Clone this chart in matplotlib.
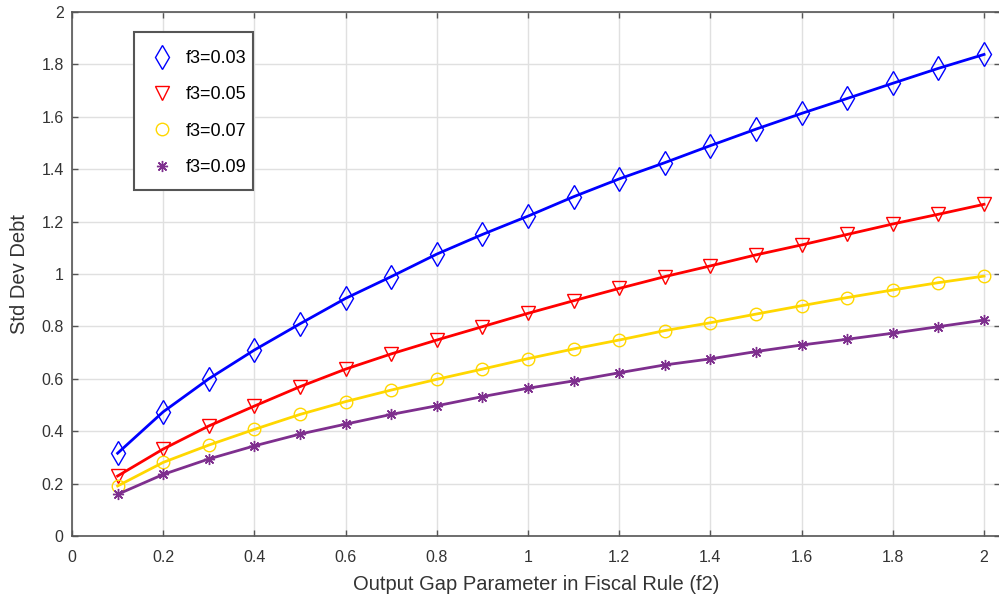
import matplotlib.pyplot as plt
from matplotlib.patches import Rectangle
import numpy as np

# Параметр f2 (ось X)
f2 = [0.1, 0.2, 0.3, 0.4, 0.5, 0.6, 0.7, 0.8, 0.9, 1.0,
      1.1, 1.2, 1.3, 1.4, 1.5, 1.6, 1.7, 1.8, 1.9, 2.0]

# Стандартное отклонение долга для разных f3
sd_f3_003 = [0.316, 0.474, 0.600, 0.710, 0.810, 0.907, 0.990, 1.076, 1.151, 1.221,
             1.295, 1.363, 1.425, 1.490, 1.553, 1.613, 1.670, 1.728, 1.785, 1.838]
sd_f3_005 = [0.229, 0.332, 0.420, 0.496, 0.570, 0.637, 0.695, 0.748, 0.799, 0.850,
             0.898, 0.945, 0.990, 1.031, 1.073, 1.111, 1.151, 1.191, 1.228, 1.266]
sd_f3_007 = [0.191, 0.281, 0.347, 0.407, 0.464, 0.513, 0.557, 0.598, 0.637, 0.677,
             0.714, 0.748, 0.784, 0.814, 0.847, 0.879, 0.910, 0.939, 0.967, 0.992]
sd_f3_009 = [0.159, 0.235, 0.294, 0.344, 0.389, 0.427, 0.464, 0.497, 0.532, 0.564,
             0.592, 0.623, 0.653, 0.676, 0.704, 0.729, 0.751, 0.774, 0.799, 0.824]

labels = ['f3=0.03', 'f3=0.05', 'f3=0.07', 'f3=0.09']
x_ticks = [0, 0.2, 0.4, 0.6, 0.8, 1, 1.2, 1.4, 1.6, 1.8, 2]
y_ticks = [0, 0.2, 0.4, 0.6, 0.8, 1, 1.2, 1.4, 1.6, 1.8, 2]
tick_text = ['0', '0.2', '0.4', '0.6', '0.8', '1', '1.2', '1.4', '1.6', '1.8', '2']

plt.rcParams['font.family'] = ['Liberation Sans', 'DejaVu Sans']

W, H = 999, 602
fig = plt.figure(figsize=(9.99, 6.02), dpi=100)
# оси: слева 72 px, правая граница уходит за край картинки
ax = fig.add_axes([72/W, 66/H, 928/W, 524/H])

series = [sd_f3_003, sd_f3_005, sd_f3_007, sd_f3_009]
colors = ['#0000ff', '#ff0000', '#ffd700', '#7e2f8e']
markers = ['d', 'v', 'o', (8, 2, 0)]  # звёздочка как в MATLAB
sizes = [12.5, 9.5, 9, 8]

for y, c, m, s, lab in zip(series, colors, markers, sizes, labels):
    ax.plot(f2, y, '-', color=c, lw=2)
    ax.plot(f2, y, linestyle='none', marker=m, markersize=s,
            markerfacecolor='none', markeredgecolor=c, markeredgewidth=1,
            label=lab)

ax.set_xlim(0, 2.035)
ax.set_ylim(0, 2)
ax.set_xticks(x_ticks)
ax.set_yticks(y_ticks)
ax.set_xticklabels(tick_text)
ax.set_yticklabels(tick_text)

ax.grid(True, color='#e0e0e0', lw=1)
ax.set_axisbelow(True)
ax.tick_params(direction='in', length=4, width=1, colors='#555555',
               labelcolor='#333333', labelsize=11.5, top=True, right=True)
ax.tick_params(axis='x', pad=10)
ax.tick_params(axis='y', pad=6)
for sp in ax.spines.values():
    sp.set_color('#555555')
    sp.set_linewidth(1.2)

ax.set_xlabel('Output Gap Parameter in Fiscal Rule (f2)', fontsize=14.5,
              color='#333333', labelpad=7)
ax.set_ylabel('Std Dev Debt', fontsize=14.5, color='#333333', labelpad=9)

# рамка легенды отдельно (в пикселях: 134..253 по x, 32..190 по y)
def px_to_ax(px, py):
    return (px - 72) / 928, (536 - py) / 524

x0, y1 = px_to_ax(134, 190)
x1, y0 = px_to_ax(253, 32)
frame = Rectangle((x0, y1), x1 - x0, y0 - y1, transform=ax.transAxes,
                  facecolor='white', edgecolor='#555555', lw=1.5, zorder=4)
ax.add_patch(frame)

hx, hy = px_to_ax(148, 50)
leg = ax.legend(loc='upper left', bbox_to_anchor=(hx, hy), borderaxespad=0,
                borderpad=0, frameon=False, fontsize=13, labelspacing=1.07,
                handlelength=1.55, handletextpad=0.55)
leg.set_zorder(5)

fig.savefig('out.png', dpi=100)
